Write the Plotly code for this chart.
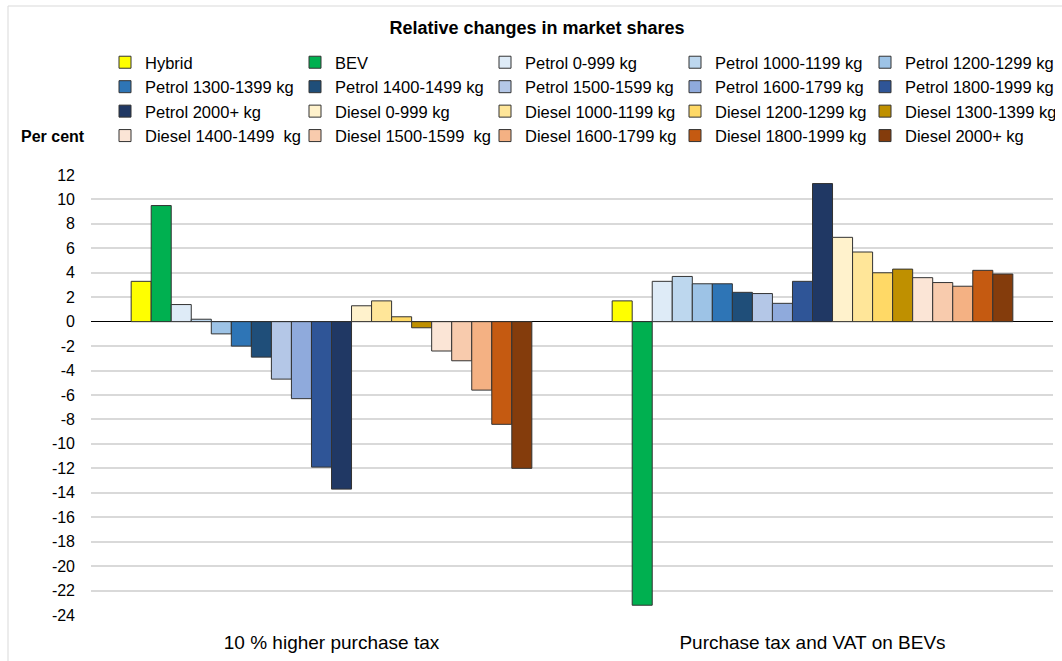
import plotly.graph_objects as go

# Policy scenarios shown on the category axis
scenarios = ["10 % higher purchase tax", "Purchase tax and VAT on BEVs"]

# Vehicle segments (one bar series each)
segments = [
    "Hybrid", "BEV",
    "Petrol 0-999 kg", "Petrol 1000-1199 kg", "Petrol 1200-1299 kg",
    "Petrol 1300-1399 kg", "Petrol 1400-1499 kg", "Petrol 1500-1599 kg",
    "Petrol 1600-1799 kg", "Petrol 1800-1999 kg", "Petrol 2000+ kg",
    "Diesel 0-999 kg", "Diesel 1000-1199 kg", "Diesel 1200-1299 kg",
    "Diesel 1300-1399 kg", "Diesel 1400-1499  kg", "Diesel 1500-1599  kg",
    "Diesel 1600-1799 kg", "Diesel 1800-1999 kg", "Diesel 2000+ kg",
]

# Relative change in market share (per cent) under each scenario
higher_purchase_tax = [
    3.3, 9.5,
    1.4, 0.2, -1.0, -2.0, -2.9, -4.7, -6.3, -11.9, -13.7,
    1.3, 1.7, 0.4, -0.5, -2.4, -3.2, -5.6, -8.4, -12.0,
]
tax_and_vat_on_bevs = [
    1.7, -23.2,
    3.3, 3.7, 3.1, 3.1, 2.4, 2.3, 1.5, 3.3, 11.3,
    6.9, 5.7, 4.0, 4.3, 3.6, 3.2, 2.9, 4.2, 3.9,
]

# Y axis ticks and their labels
y_ticks = list(range(-24, 13, 2))
y_tick_labels = [str(v) for v in y_ticks]

colors = [
    "#FFFF00", "#00B050",
    "#DEEBF7", "#BDD7EE", "#9DC3E6", "#2E75B6", "#1F4E79",
    "#B4C7E7", "#8FAADC", "#2F5597", "#203864",
    "#FFF2CC", "#FFE699", "#FFD966", "#BF9000",
    "#FBE5D6", "#F8CBAD", "#F4B183", "#C55A11", "#843C0C",
]

FONT = "Liberation Sans, Arial, sans-serif"
W, H = 1062, 661
L, R, T, B = 91, 9, 175, 46

fig = go.Figure()
for i, name in enumerate(segments):
    fig.add_trace(go.Bar(
        name=name,
        x=scenarios,
        y=[higher_purchase_tax[i], tax_and_vat_on_bevs[i]],
        marker=dict(color=colors[i], line=dict(color="#333333", width=1)),
    ))

plot_w = W - L - R
plot_h = H - T - B

fig.update_layout(
    width=W, height=H,
    margin=dict(l=L, r=R, t=T, b=B),
    paper_bgcolor="white", plot_bgcolor="white",
    barmode="group", bargap=0.167, bargroupgap=0,
    font=dict(family=FONT, color="#000000"),
    title=dict(
        text="<b>Relative changes in market shares</b>",
        font=dict(family=FONT, size=18, color="#000000"),
        x=537 / W, xref="container", xanchor="center",
        y=1 - 28 / H, yref="container", yanchor="middle",
    ),
    legend=dict(
        orientation="h", traceorder="normal",
        xref="container", yref="container",
        x=105 / W, xanchor="left",
        y=1 - 45 / H, yanchor="top",
        entrywidth=145, entrywidthmode="pixels",
        font=dict(family=FONT, size=16.5, color="#000000"),
        bgcolor="rgba(0,0,0,0)",
    ),
    xaxis=dict(
        showgrid=False, showline=False, ticks="",
        ticklabelstandoff=14,
        tickfont=dict(family=FONT, size=19, color="#000000"),
    ),
    yaxis=dict(
        range=[-24, 12], tickvals=y_ticks, ticktext=y_tick_labels,
        showgrid=True, gridcolor="#D9D9D9", gridwidth=1.5,
        zeroline=True, zerolinecolor="#000000", zerolinewidth=1,
        showline=False, ticks="",
        ticklabelstandoff=15,
        tickfont=dict(family=FONT, size=16, color="#000000"),
    ),
    annotations=[dict(
        text="<b>Per cent</b>", xref="paper", yref="paper",
        x=(19 - L) / plot_w, y=(H - B - 137) / plot_h,
        xanchor="left", yanchor="middle", showarrow=False,
        font=dict(family=FONT, size=16, color="#000000"),
    )],
    shapes=[dict(
        type="rect", xref="paper", yref="paper", layer="below",
        x0=(8 - L) / plot_w, x1=1.2,
        y0=-0.3, y1=(H - B - 6) / plot_h,
        line=dict(color="#D9D9D9", width=1), fillcolor="rgba(0,0,0,0)",
    )],
)

fig.write_html("out.html")
